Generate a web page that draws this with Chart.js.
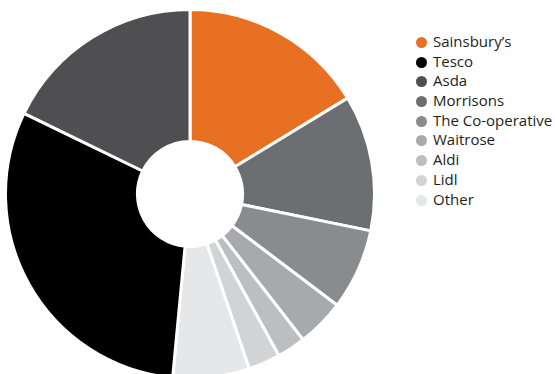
<!DOCTYPE html>
<html>
<head>
<meta charset="utf-8">
<script src="https://cdn.jsdelivr.net/npm/chart.js@4"></script>
<style>
  html, body { margin: 0; padding: 0; background: #fff; overflow: hidden; width: 555px; height: 374px; }
  #chart-wrap { position: absolute; left: 4px; top: 8px; width: 372px; height: 372px; }
  #legend { position: absolute; left: 416px; top: 32px; font-family: "Open Sans", sans-serif; font-size: 15px; color: #231f20; }
  #legend .row { height: 19.7px; line-height: 19.7px; white-space: nowrap; }
  #legend .dot { display: inline-block; width: 11px; height: 11px; border-radius: 50%; margin-right: 6px; vertical-align: -1px; }
</style>
</head>
<body>
<div id="chart-wrap"><canvas id="shareChart"></canvas></div>
<div id="legend"></div>
<script>
// legend order
const legendLabels = ['Sainsbury\u2019s', 'Tesco', 'Asda', 'Morrisons', 'The Co-operative', 'Waitrose', 'Aldi', 'Lidl', 'Other'];
const legendColors = ['#e87022', '#000000', '#4f4f51', '#6d6e71', '#8a8b8d', '#a7a9ac', '#bcbec0', '#d1d3d4', '#e6e7e8'];

// slice order as drawn, clockwise from the top
const sliceLabels = ['Sainsbury\u2019s', 'Morrisons', 'The Co-operative', 'Waitrose', 'Aldi', 'Lidl', 'Other', 'Tesco', 'Asda'];
const shareValues = [16.3, 11.9, 7.1, 4.2, 2.5, 2.8, 6.7, 30.7, 17.8];

const colorFor = name => legendColors[legendLabels.indexOf(name)];

new Chart(document.getElementById('shareChart'), {
    type: 'doughnut',
    data: {
        labels: sliceLabels,
        datasets: [{
            data: shareValues,
            backgroundColor: sliceLabels.map(colorFor),
            borderColor: '#ffffff',
            borderWidth: 3
        }]
    },
    options: {
        responsive: true,
        maintainAspectRatio: false,
        animation: false,
        cutout: '28.5%',
        plugins: {
            legend: { display: false },
            tooltip: { enabled: false }
        }
    }
});

const legendEl = document.getElementById('legend');
legendLabels.forEach((name, i) => {
    const row = document.createElement('div');
    row.className = 'row';
    const dot = document.createElement('span');
    dot.className = 'dot';
    dot.style.background = legendColors[i];
    row.appendChild(dot);
    row.appendChild(document.createTextNode(name));
    legendEl.appendChild(row);
});
</script>
</body>
</html>
